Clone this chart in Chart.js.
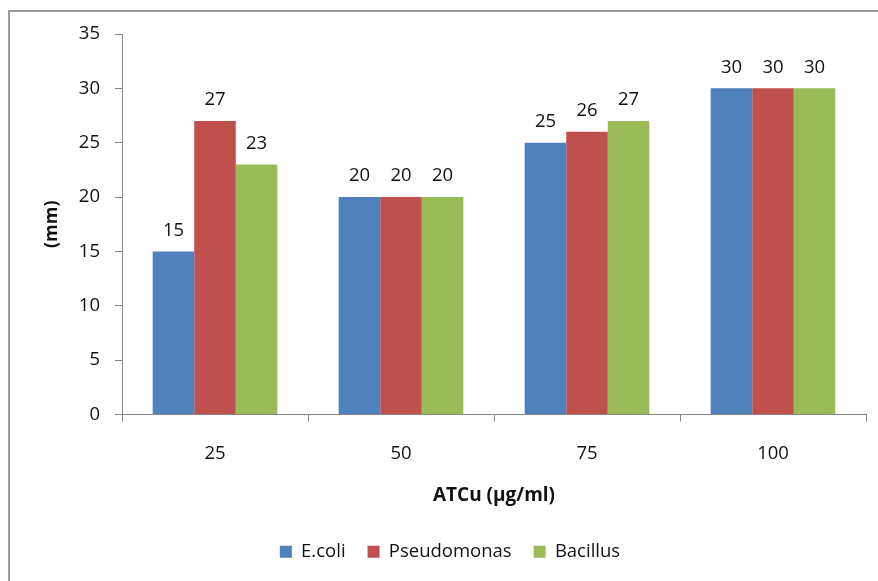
<!DOCTYPE html>
<html>
<head>
<meta charset="utf-8">
<script src="https://cdn.jsdelivr.net/npm/chart.js@4"></script>
<style>
  html, body { margin: 0; padding: 0; background: #fff; }
  #wrap { position: relative; width: 878px; height: 581px; }
</style>
</head>
<body>
<div id="wrap"><canvas id="chart" width="878" height="581"></canvas></div>
<script>
// Inhibition zone diameters (mm) by concentration
const categories = ['25', '50', '75', '100'];
const ecoli = [15, 20, 25, 30];
const pseudomonas = [27, 20, 26, 30];
const bacillus = [23, 20, 27, 30];

const FONT = '"Open Sans", "Liberation Sans", sans-serif';
const AXIS = '#868686';
const SIZE = 18.5;

// Outer frame of the chart object
const framePlugin = {
  id: 'frame',
  beforeDraw(chart) {
    const ctx = chart.ctx;
    ctx.save();
    ctx.fillStyle = '#fff';
    ctx.fillRect(0, 0, chart.width, chart.height);
    ctx.strokeStyle = '#9c9c9c';
    ctx.lineWidth = 2;
    ctx.beginPath();
    ctx.moveTo(9, chart.height);
    ctx.lineTo(9, 11);
    ctx.lineTo(chart.width, 11);
    ctx.stroke();
    ctx.restore();
  }
};

// Value labels above each bar
const valueLabels = {
  id: 'valueLabels',
  afterDatasetsDraw(chart) {
    const ctx = chart.ctx;
    ctx.save();
    ctx.font = SIZE + 'px ' + FONT;
    ctx.fillStyle = '#111';
    ctx.textAlign = 'center';
    ctx.textBaseline = 'middle';
    chart.data.datasets.forEach((ds, i) => {
      chart.getDatasetMeta(i).data.forEach((bar, j) => {
        ctx.fillText(String(ds.data[j]), bar.x, bar.y - 21);
      });
    });
    ctx.restore();
  }
};

new Chart(document.getElementById('chart'), {
  type: 'bar',
  data: {
    labels: categories,
    datasets: [
      { label: 'E.coli', data: ecoli, backgroundColor: '#4F81BD' },
      { label: 'Pseudomonas', data: pseudomonas, backgroundColor: '#C0504D' },
      { label: 'Bacillus', data: bacillus, backgroundColor: '#9BBB59' }
    ]
  },
  options: {
    responsive: false,
    animation: false,
    devicePixelRatio: 1,
    layout: { padding: { left: 34, top: 34, right: 12, bottom: 10 } },
    datasets: { bar: { categoryPercentage: 0.67, barPercentage: 1.0 } },
    plugins: {
      legend: {
        position: 'bottom',
        labels: {
          font: { family: FONT, size: SIZE },
          color: '#111',
          boxWidth: 12,
          boxHeight: 12,
          padding: 22
        }
      },
      tooltip: { enabled: false }
    },
    scales: {
      x: {
        afterFit(scale) { scale.height = 106; },
        grid: { drawOnChartArea: false, drawTicks: true, tickLength: 7, color: AXIS, offset: true },
        border: { display: true, color: AXIS, width: 1 },
        ticks: { font: { family: FONT, size: SIZE }, color: '#111', padding: 21 },
        title: {
          display: true,
          text: 'ATCu (µg/ml)',
          font: { family: FONT, size: 19, weight: 'bold' },
          color: '#111',
          padding: { top: 0, bottom: 14 }
        }
      },
      y: {
        min: 0,
        max: 35,
        afterFit(scale) { scale.width = 88; },
        grid: { drawOnChartArea: false, drawTicks: true, tickLength: 7, color: AXIS },
        border: { display: true, color: AXIS, width: 1 },
        ticks: { stepSize: 5, font: { family: FONT, size: SIZE }, color: '#111', padding: 15 },
        title: {
          display: true,
          text: '(mm)',
          font: { family: FONT, size: 18, weight: 'bold' },
          color: '#111',
          padding: { top: 7, bottom: 0 }
        }
      }
    }
  },
  plugins: [framePlugin, valueLabels]
});
</script>
</body>
</html>
